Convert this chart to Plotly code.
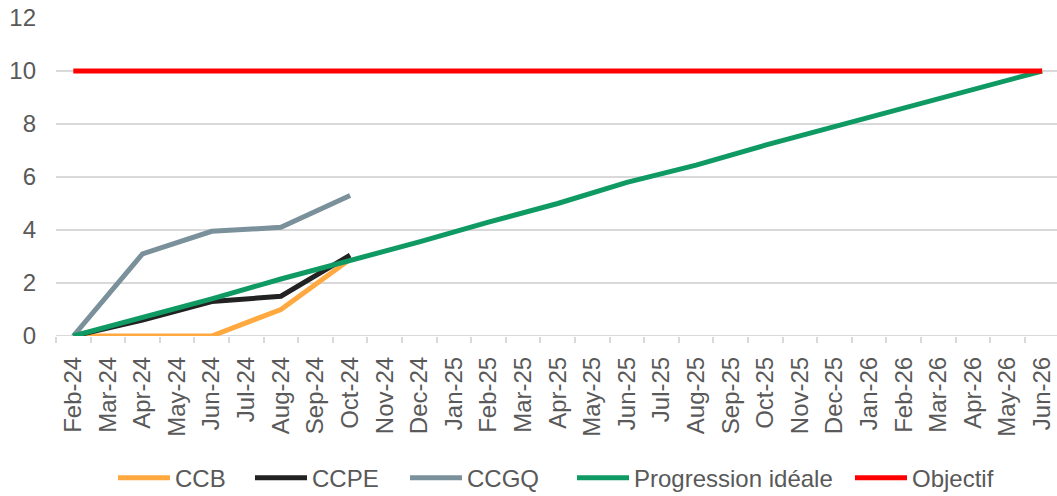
import plotly.graph_objects as go

months = ["Feb-24","Mar-24","Apr-24","May-24","Jun-24","Jul-24","Aug-24","Sep-24","Oct-24","Nov-24","Dec-24",
          "Jan-25","Feb-25","Mar-25","Apr-25","May-25","Jun-25","Jul-25","Aug-25","Sep-25","Oct-25","Nov-25","Dec-25",
          "Jan-26","Feb-26","Mar-26","Apr-26","May-26","Jun-26"]

obs_months = ["Feb-24","Apr-24","Jun-24","Aug-24","Oct-24"]
ccb  = [0, 0, 0, 1.0, 2.9]
ccpe = [0, 0.6, 1.3, 1.5, 3.05]
ccgq = [0, 3.1, 3.95, 4.1, 5.3]

ideal_months = ["Feb-24","Apr-24","Jun-24","Aug-24","Oct-24","Dec-24","Feb-25","Apr-25","Jun-25",
                "Aug-25","Oct-25","Dec-25","Feb-26","Apr-26","Jun-26"]
ideal = [0, 0.7, 1.4, 2.15, 2.85, 3.55, 4.3, 5.0, 5.8, 6.45, 7.2, 7.9, 8.6, 9.3, 10]
objectif = [10]*len(ideal_months)

series = [
    ("CCB", obs_months, ccb, "#FFA940"),
    ("CCPE", obs_months, ccpe, "#222222"),
    ("CCGQ", obs_months, ccgq, "#7A909B"),
    ("Progression idéale", ideal_months, ideal, "#0F9A64"),
    ("Objectif", ideal_months, objectif, "#FF0000"),
]
# legend entry left positions (px)
legend_x_px = [118, 255, 410, 577, 855]

font = dict(family="Liberation Sans, Arial, sans-serif", size=24, color="#595959")

fig = go.Figure()
legend_layouts = {}
for i, ((name, xs, ys, col), lx) in enumerate(zip(series, legend_x_px)):
    key = "legend" if i == 0 else f"legend{i+1}"
    fig.add_trace(go.Scatter(x=xs, y=ys, name=name, mode="lines",
                             line=dict(color=col, width=5), legend=key))
    legend_layouts[key] = dict(orientation="h", xref="container", x=(lx - 5) / 1057, xanchor="left",
                               yref="container", y=0.036, yanchor="middle",
                               font=font, itemwidth=52, bgcolor="rgba(0,0,0,0)")

fig.update_layout(
    width=1057, height=496,
    margin=dict(l=56, r=0, t=18, b=160),
    paper_bgcolor="white", plot_bgcolor="white",
    font=font,
    showlegend=True,
    xaxis=dict(type="category", categoryorder="array", categoryarray=months,
               range=[-0.5, 28.43], tickangle=-90, tickson="boundaries",
               ticks="outside", ticklen=6, tickcolor="#d9d9d9", tickwidth=2,
               showline=False, showgrid=False, zeroline=False, automargin=False,
               tickfont=font, tickvals=months, ticktext=months, ticklabelstandoff=15),
    yaxis=dict(range=[0, 12], dtick=2, tick0=0, gridcolor="#d9d9d9", gridwidth=2,
               zeroline=False, showline=False, tickfont=font, ticklabelstandoff=19,
               automargin=False),
    **legend_layouts,
)
fig.add_hline(y=0, line=dict(color="#d9d9d9", width=2), layer="below")
fig.write_html("out.html", config={"displayModeBar": False},
               post_script="document.body.style.margin='0';")
